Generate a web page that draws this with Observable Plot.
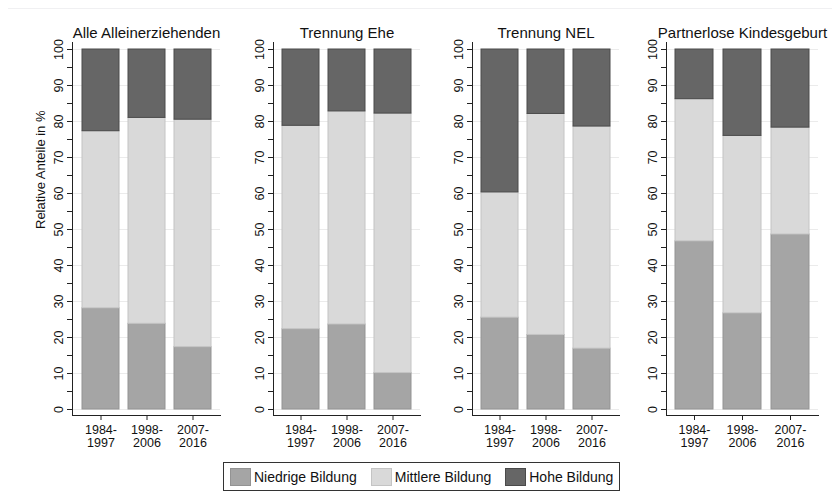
<!DOCTYPE html>
<html>
<head>
<meta charset="utf-8">
<script src="https://cdn.jsdelivr.net/npm/d3@7"></script>
<script src="https://cdn.jsdelivr.net/npm/@observablehq/plot@0.6"></script>
<style>
  html, body { margin: 0; padding: 0; background: #fff; }
  #wrap { position: relative; width: 832px; height: 492px; overflow: hidden; font-family: "Liberation Sans", Arial, sans-serif; }
  #wrap svg { position: absolute; top: 0; overflow: visible; }
  #topline { position: absolute; left: 8px; right: 0; top: 8px; height: 1px; background: #f0f0f2; }
  #legend { position: absolute; left: 223px; top: 462px; width: 397px; height: 29px; border: 1px solid #333; box-sizing: border-box;
            display: flex; align-items: center; padding-left: 6px; font-size: 14px; color: #111; white-space: nowrap; }
  .item { display: flex; align-items: center; margin-right: 14px; flex-shrink: 0; }
  .item:last-child { margin-right: 0; }
  .sw { width: 21px; height: 18px; box-sizing: border-box; margin-right: 3px; }
</style>
</head>
<body>
<div id="wrap"><div id="topline"></div></div>
<script>
const groups = ["Alle Alleinerziehenden", "Trennung Ehe", "Trennung NEL", "Partnerlose Kindesgeburt"];
const periods = ["1984-1997", "1998-2006", "2007-2016"];
const levels = ["Niedrige Bildung", "Mittlere Bildung", "Hohe Bildung"];
const fills = ["#a5a5a5", "#d9d9d9", "#666666"];
const strokes = ["#939393", "#c4c4c4", "#4a4a4a"];
// values per group, per period (in %)
const niedrige = [[28.1, 23.8, 17.3], [22.3, 23.6, 10.1], [25.5, 20.7, 16.9], [46.7, 26.7, 48.6]];
const mittlere = [[49.2, 57.2, 63.2], [56.5, 59.2, 72.1], [34.8, 61.4, 61.7], [39.5, 49.3, 29.7]];
const hohe     = [[22.7, 19.0, 19.5], [21.2, 17.2, 17.8], [39.7, 17.9, 21.4], [13.8, 24.0, 21.7]];
const yTicks = d3.range(0, 101, 5);
const yTickLabels = d3.range(0, 101, 10);
const yLabel = "Relative Anteile in %";

const series = [niedrige, mittlere, hohe];
// layout per panel: svg left, marginLeft, width
const panels = [
  {left: 0, ml: 72, w: 222},
  {left: 222, ml: 51, w: 200},
  {left: 422, ml: 50, w: 199},
  {left: 621, ml: 45, w: 199}
];

const wrap = document.getElementById("wrap");
const font = "Liberation Sans, Arial, sans-serif";

groups.forEach((g, gi) => {
  const rows = [];
  periods.forEach((p, pi) => {
    levels.forEach((l, li) => {
      rows.push({group: g, period: p, level: li, value: series[li][gi][pi]});
    });
  });
  const P = panels[gi];
  const marks = [
    Plot.gridY(yTickLabels, {stroke: "#ebebeb", strokeOpacity: 1}),
    Plot.barY(rows, Plot.stackY({
      x: "period", y: "value",
      fill: d => fills[d.level], stroke: d => strokes[d.level], strokeWidth: 1
    })),
    Plot.frame({anchor: "left", stroke: "#222"}),
    Plot.frame({anchor: "bottom", stroke: "#222"}),
    Plot.axisY({ticks: yTicks, tickSize: 5, tickFormat: () => "", label: null, stroke: "#222"}),
    Plot.axisX({tickSize: 5, tickFormat: () => "", label: null, stroke: "#222"}),
    Plot.text(yTickLabels, {y: d => d, text: d => String(d), frameAnchor: "left", dx: -10, rotate: -90,
      textAnchor: "middle", lineAnchor: "bottom", fontSize: 12.5, fill: "#111"}),
    Plot.text(periods, {x: d => d, text: d => d.replace("-", "-\n"), frameAnchor: "bottom", dy: 9,
      lineAnchor: "top", lineHeight: 1.05, fontSize: 12.5, fill: "#111"}),
    Plot.text([g], {frameAnchor: "top", lineAnchor: "bottom", dy: -5, fontSize: 15, fill: "#111"})
  ];
  if (gi === 0) {
    marks.push(Plot.text([yLabel], {frameAnchor: "left", rotate: -90, dx: -32, fontSize: 13, fill: "#111"}));
  }
  const svg = Plot.plot({
    width: P.w, height: 455,
    marginLeft: P.ml, marginRight: 2, marginTop: 42, marginBottom: 40,
    insetTop: 7, insetBottom: 6,
    style: {fontFamily: font, color: "#111", background: "transparent"},
    x: {domain: periods, paddingInner: 0.2, paddingOuter: 0.18, axis: null},
    y: {domain: [0, 100], axis: null},
    marks
  });
  svg.style.left = P.left + "px";
  wrap.appendChild(svg);
});

const legend = document.createElement("div");
legend.id = "legend";
levels.forEach((l, i) => {
  const it = document.createElement("div");
  it.className = "item";
  const sw = document.createElement("div");
  sw.className = "sw";
  sw.style.background = fills[i];
  sw.style.border = "1px solid " + strokes[i];
  const t = document.createElement("span");
  t.textContent = l;
  it.appendChild(sw); it.appendChild(t);
  legend.appendChild(it);
});
wrap.appendChild(legend);
</script>
</body>
</html>
